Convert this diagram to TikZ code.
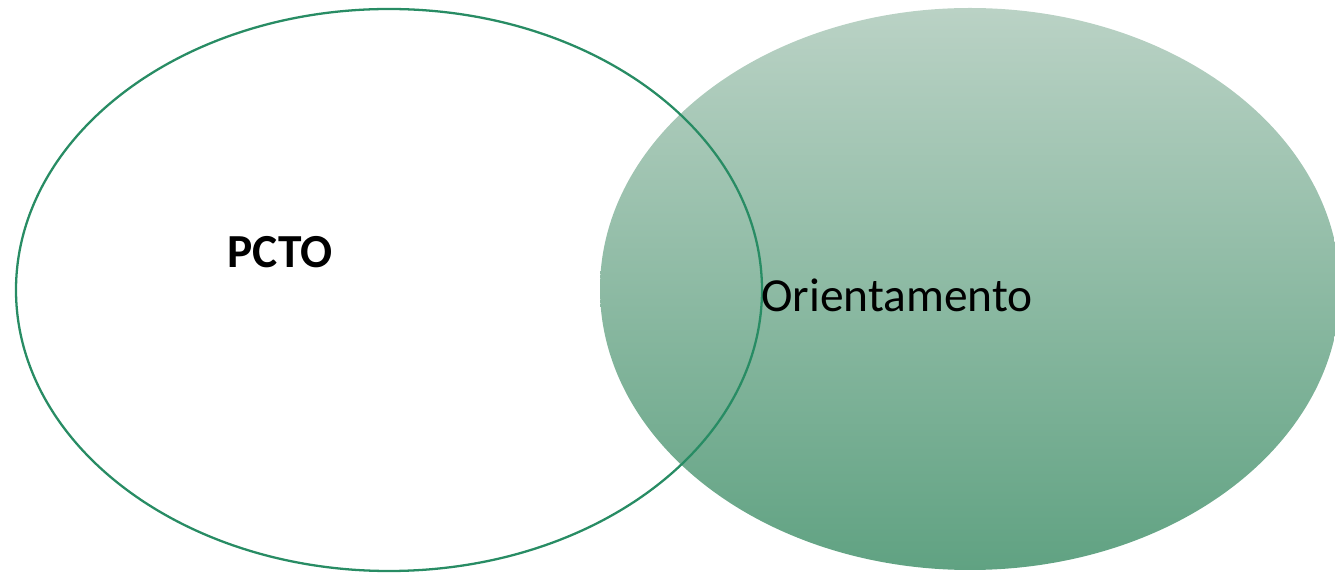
\documentclass[tikz,border=0pt]{standalone}
\usepackage{fontspec}
\setmainfont{Carlito}
\definecolor{SetLine}{RGB}{40,140,100}
\definecolor{SetTop}{RGB}{186,210,197}
\definecolor{SetBottom}{RGB}{96,162,130}
\begin{document}
\begin{tikzpicture}[x=0.02cm,y=-0.02cm]
	\useasboundingbox (0,0) rectangle (1335,573);

	% Orientamento set, gradient fill
	\begin{scope}
	\clip (0,0) rectangle (1335,573);
	\shade[top color=SetTop,bottom color=SetBottom] (970,289) ellipse [x radius=370, y radius=281];
	\end{scope}

	% PCTO set, outline only
	\draw[SetLine, line width=1.3pt] (389,290) ellipse [x radius=373, y radius=281];

\node[font=\bfseries\fontsize{27}{32}\selectfont] (pcto) at (280,252) {PCTO};
\node[font=\fontsize{27}{32}\selectfont] (orient) at (897,295) {Orientamento};
\end{tikzpicture}
\end{document}
